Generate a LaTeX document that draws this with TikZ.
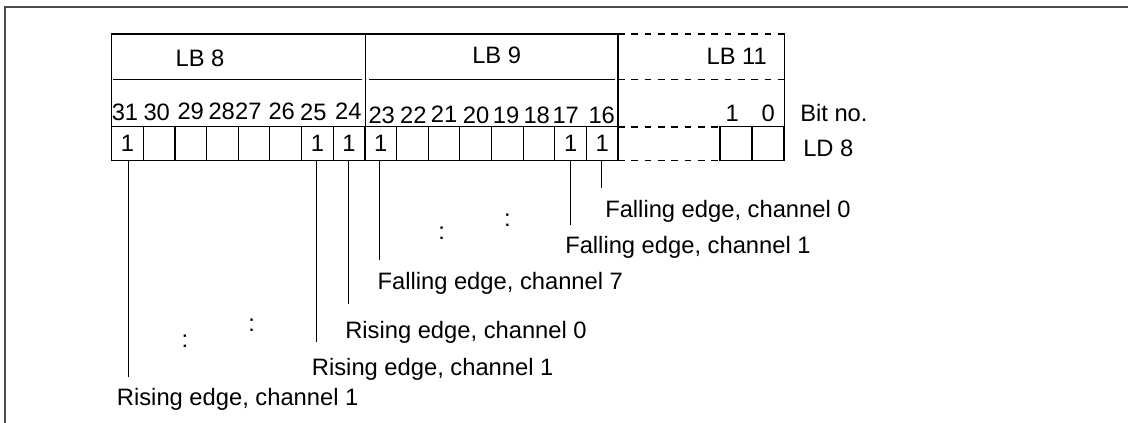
\documentclass[tikz,border=0pt]{standalone}
\usepackage{fontspec}
\setmainfont{Liberation Sans}
\begin{document}
\begin{tikzpicture}[x=0.75pt,y=-0.75pt,
  every node/.style={font=\fontsize{17.8}{20}\selectfont, inner sep=0pt},
  cell/.style={draw, line width=0.8pt, minimum width=23.74pt, minimum height=25.5pt, anchor=center},
  boxline/.style={line width=0.8pt},
  dashline/.style={line width=0.8pt, dash pattern=on 5pt off 5pt},
  conn/.style={line width=0.6pt},
  frame/.style={line width=1.5pt, draw=black!70},
  lab/.style={anchor=west}]
\useasboundingbox (0,0) rectangle (1128,423);
% outer frame
\draw[frame] (5.3,423) -- (5.3,7.3) -- (1128,7.3);
% upper boxes
\draw[boxline] (111.7,126.7) -- (111.7,34) -- (365.7,34);
\draw[boxline] (113,79.5) -- (362,79.5);
\draw[boxline] (365.7,160.7) -- (365.7,34) -- (618,34) -- (618,160.7);
\draw[boxline] (369,79.3) -- (615,79.3);
% LB 11 dashed part
\draw[dashline] (618,34) -- (788,34);
\draw[dashline] (618,79.3) -- (786,79.3);
\draw[dashline] (618,127) -- (720,127);
\draw[dashline] (618,160.7) -- (720,160.7);
\draw[boxline] (784.3,34) -- (784.3,127);
% titles
\node (lb8) at (200,58) {LB 8};
\node (lb9) at (496.7,55) {LB 9};
\node (lb11) at (736.7,56.7) {LB 11};
% bit cells
\foreach \b/\t [count=\i from 0] in {31/1,30/{},29/{},28/{},27/{},26/{},25/1,24/1,23/1,22/{},21/{},20/{},19/{},18/{},17/1,16/1}
  \node[cell] (c\b) at ({127.525+31.65*\i},143.7) {\t};
\node[cell, minimum width=24pt] (c1) at (736,143.8) {};
\node[cell, minimum width=24pt] (c0) at (768,143.8) {};
% bit numbers
\node (n31) at (125,112) {31};
\node (n30) at (156.7,112) {30};
\node (n29) at (190.7,111) {29};
\node (n28) at (221.7,111) {28};
\node (n27) at (248.3,111) {27};
\node (n26) at (281.7,111) {26};
\node (n25) at (313.3,112) {25};
\node (n24) at (348.3,111) {24};
\node (n23) at (381.7,115) {23};
\node (n22) at (413.3,115) {22};
\node (n21) at (444,114) {21};
\node (n20) at (476,115) {20};
\node (n19) at (506,115) {19};
\node (n18) at (536.7,115) {18};
\node (n17) at (565.7,115) {17};
\node (n16) at (601.7,115) {16};
\node (n1) at (732.3,113.3) {1};
\node (n0) at (768.3,113.3) {0};
\node[lab] (bitno) at (800,113) {Bit no.};
\node[lab] (ld8) at (803,148.3) {LD 8};
% connector ends
\coordinate (e31) at (128.3,376.7);
\coordinate (e25) at (316,341.7);
\coordinate (e24) at (348.3,304);
\coordinate (e23) at (379,260);
\coordinate (e17) at (570,225);
\coordinate (e16) at (601.3,188);
\draw[conn] (c31.south -| e31) -- (e31);
\draw[conn] (c25.south -| e25) -- (e25);
\draw[conn] (c24.south -| e24) -- (e24);
\draw[conn] (c23.south -| e23) -- (e23);
\draw[conn] (c17.south -| e17) -- (e17);
\draw[conn] (c16.south -| e16) -- (e16);
% labels
\node[lab] (r31) at (116.7,399.3) {Rising edge, channel 1};
\node[lab] (r25) at (311.7,369.3) {Rising edge, channel 1};
\node[lab] (r24) at (345,332.7) {Rising edge, channel 0};
\node[lab] (f23) at (377.3,283.3) {Falling edge, channel 7};
\node[lab] (f17) at (565,247) {Falling edge, channel 1};
\node[lab] (f16) at (605,211) {Falling edge, channel 0};
% ellipsis colons
\node (d1) at (185,341.7) {:};
\node (d2) at (251.7,325.7) {:};
\node (d3) at (441.7,233.3) {:};
\node (d4) at (507.3,220) {:};
\end{tikzpicture}
\end{document}
